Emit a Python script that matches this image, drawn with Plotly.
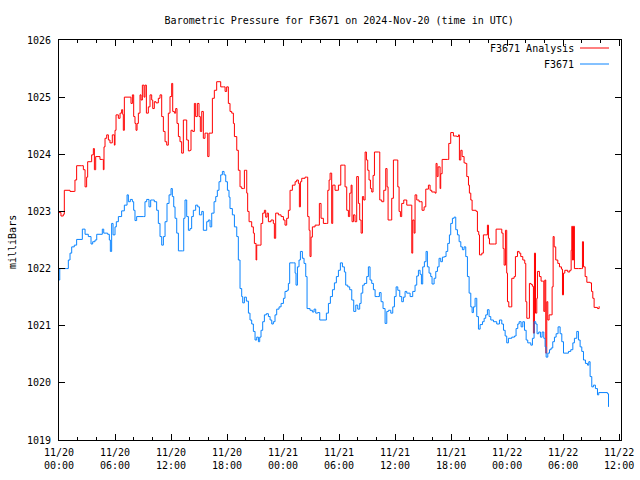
import pandas as pd
import plotly.graph_objects as go

# hours since 2024-11-20 00:00 UTC, pressure in mb
analysis_hours = [0.0,0.21,0.46,0.57,1.18,1.64,1.71,1.89,2.43,2.61,2.79,2.96,3.07,3.32,3.5,3.68,3.79,3.93,4.39,4.64,4.75,4.82,4.93,5.11,5.29,5.46,5.71,5.93,6.0,6.11,6.36,6.54,6.71,6.82,6.89,7.0,7.61,7.71,7.86,8.0,8.14,8.25,8.36,8.5,8.68,8.79,8.93,9.11,9.21,9.36,9.57,9.75,9.93,10.04,10.21,10.39,10.64,10.82,11.0,11.18,11.36,11.54,11.71,11.89,12.07,12.18,12.36,12.5,12.64,12.79,12.96,13.14,13.32,13.5,13.68,13.86,14.04,14.14,14.32,14.5,14.64,14.82,15.0,15.14,15.29,15.46,15.64,15.82,15.93,16.07,16.29,16.43,16.64,16.89,17.14,17.32,17.61,17.79,17.96,18.14,18.32,18.5,18.68,18.79,19.04,19.21,19.39,19.57,19.75,19.86,20.0,20.11,20.21,20.36,20.64,20.82,20.93,21.11,21.18,21.46,21.64,21.82,22.0,22.14,22.29,22.43,22.71,22.96,23.07,23.21,23.5,23.79,24.04,24.21,24.39,24.57,24.75,25.0,25.29,25.46,25.64,25.75,25.86,26.0,26.36,26.54,26.64,26.79,26.89,27.0,27.14,27.43,27.71,27.89,28.07,28.32,28.68,28.79,28.93,29.04,29.21,29.32,29.57,29.79,29.93,30.18,30.46,30.64,30.82,31.0,31.14,31.29,31.39,31.54,31.71,31.89,32.07,32.21,32.36,32.5,32.64,32.79,32.93,33.07,33.21,33.36,33.5,33.64,33.79,34.21,34.36,34.57,34.79,35.0,35.14,35.25,35.5,35.64,35.82,36.11,36.29,36.43,36.57,36.71,36.93,37.07,37.25,37.71,37.79,37.89,38.04,38.14,38.32,38.57,38.75,38.89,39.11,39.29,39.57,39.75,39.93,40.29,40.39,40.5,40.61,40.82,40.89,41.04,41.61,41.75,41.96,42.25,42.61,42.79,42.89,43.04,43.18,43.39,43.54,43.68,43.86,43.96,44.11,44.25,44.68,44.82,44.96,45.04,45.29,45.46,45.71,45.89,46.0,46.11,46.64,46.82,47.25,47.43,47.57,47.68,47.82,47.96,48.04,48.18,48.39,48.5,48.75,48.89,49.11,49.29,49.46,49.68,49.89,50.0,50.11,50.29,50.39,50.57,50.71,50.82,50.93,51.04,51.18,51.25,51.46,51.64,51.82,51.93,52.04,52.14,52.25,52.36,52.5,52.71,52.82,52.93,53.04,53.21,53.43,53.61,53.82,53.93,54.04,54.18,54.5,54.71,54.86,54.93,55.0,55.11,55.21,55.64,55.96,56.07,56.18,56.36,56.54,56.89,57.04,57.18,57.32,57.68,57.86]
analysis_mb = [1022.98,1022.92,1022.95,1023.37,1023.35,1023.35,1023.55,1023.8,1023.8,1023.73,1023.43,1023.6,1023.87,1023.87,1023.99,1024.1,1023.73,1023.96,1023.91,1023.91,1023.73,1024.13,1024.28,1024.34,1024.25,1024.2,1024.34,1024.16,1024.42,1024.69,1024.63,1024.72,1024.78,1024.7,1024.42,1025.0,1025.0,1024.89,1025.04,1024.66,1024.54,1024.42,1024.54,1024.72,1025.04,1024.95,1025.21,1025.0,1025.21,1024.72,1024.83,1025.04,1024.95,1024.8,1024.92,1024.9,1024.98,1025.04,1024.66,1024.4,1024.22,1024.16,1024.72,1025.01,1025.24,1024.75,1024.72,1024.8,1024.54,1024.31,1024.22,1024.02,1024.6,1024.6,1024.25,1024.06,1024.07,1024.42,1024.4,1024.89,1024.66,1024.89,1024.66,1024.4,1024.75,1024.28,1024.37,1024.37,1023.96,1024.37,1024.37,1024.98,1025.12,1025.27,1025.27,1025.18,1025.18,1025.1,1025.18,1024.89,1024.75,1024.72,1024.54,1024.31,1024.07,1023.72,1023.43,1023.4,1023.4,1023.72,1023.72,1023.32,1023.0,1022.82,1022.73,1022.62,1022.44,1022.15,1022.41,1022.41,1022.79,1022.97,1023.02,1022.9,1022.97,1022.82,1022.85,1022.79,1022.53,1022.97,1022.94,1022.91,1022.85,1022.76,1022.88,1023.02,1023.37,1023.46,1023.52,1023.55,1023.49,1023.08,1023.52,1023.58,1023.6,1023.6,1022.91,1022.67,1022.21,1022.55,1022.73,1022.76,1022.76,1023.14,1022.88,1022.79,1022.79,1023.37,1023.55,1023.67,1022.79,1023.46,1023.37,1023.37,1023.46,1023.81,1023.81,1023.43,1023.02,1022.91,1023.32,1023.46,1022.82,1022.94,1022.82,1023.61,1023.14,1022.85,1022.62,1023.26,1023.2,1024.04,1023.9,1023.72,1023.55,1023.4,1023.34,1023.63,1024.04,1024.04,1023.2,1023.17,1023.37,1023.75,1023.43,1022.85,1022.85,1023.23,1023.9,1023.9,1023.43,1023.0,1022.91,1023.14,1023.2,1023.2,1023.11,1023.11,1022.27,1022.85,1022.62,1023.29,1023.2,1023.17,1023.17,1023.02,1023.08,1023.39,1023.46,1023.37,1023.34,1023.32,1023.84,1023.61,1023.78,1023.4,1023.66,1023.91,1023.91,1024.19,1024.38,1024.32,1024.31,1024.34,1023.9,1024.07,1023.96,1023.85,1023.84,1023.61,1023.46,1023.32,1023.2,1023.02,1023.0,1022.65,1022.59,1022.24,1022.27,1022.59,1022.59,1022.76,1022.53,1022.43,1022.43,1022.69,1022.69,1022.62,1022.35,1022.06,1022.67,1021.92,1021.42,1021.33,1021.33,1021.83,1021.86,1022.21,1022.3,1022.27,1022.21,1022.15,1022.09,1021.42,1021.13,1021.13,1021.74,1021.72,1021.69,1020.87,1022.27,1021.22,1021.48,1021.95,1021.86,1021.78,1021.78,1021.25,1021.8,1020.52,1021.42,1021.1,1021.19,1021.19,1021.68,1022.56,1022.38,1022.15,1022.09,1022.03,1021.99,1021.54,1021.92,1021.97,1021.94,1021.97,1022.32,1022.74,1022.15,1022.74,1022.0,1022.0,1022.0,1022.47,1022.03,1021.86,1021.76,1021.75,1021.6,1021.48,1021.32,1021.3,1021.34]

station_hours = [0.0,0.08,0.82,1.0,1.18,1.36,1.64,1.89,2.36,2.5,2.79,3.14,3.43,3.61,3.86,4.04,4.5,4.64,4.79,5.21,5.39,5.5,5.64,5.79,6.0,6.14,6.36,6.71,7.0,7.29,7.43,7.64,7.86,8.0,8.14,8.32,9.04,9.21,9.39,9.64,9.82,10.04,10.21,10.46,10.64,10.82,11.0,11.18,11.36,11.57,11.79,12.0,12.14,12.29,12.43,12.61,12.79,13.21,13.36,13.5,13.68,13.86,14.04,14.21,14.39,14.64,14.86,15.04,15.29,15.46,15.64,15.82,16.0,16.18,16.36,16.61,16.79,16.96,17.14,17.32,17.5,17.68,17.86,18.04,18.21,18.32,18.57,18.79,19.04,19.21,19.39,19.57,19.68,19.86,20.07,20.29,20.46,20.64,20.82,21.0,21.18,21.36,21.5,21.64,21.82,22.0,22.21,22.43,22.61,22.79,22.96,23.14,23.32,23.57,23.79,24.04,24.21,24.43,24.57,24.71,25.11,25.29,25.39,25.54,25.71,25.86,26.07,26.25,26.43,26.57,26.89,27.14,27.32,27.5,27.71,27.93,28.5,28.64,28.86,29.07,29.29,29.5,29.71,29.93,30.14,30.36,30.57,30.71,30.93,31.14,31.36,31.57,31.79,32.0,32.21,32.36,32.54,32.71,32.96,33.14,33.32,33.5,33.68,33.86,34.14,34.32,34.5,34.71,34.93,35.11,35.29,35.54,35.75,35.93,36.11,36.29,36.5,36.71,36.89,37.07,37.25,37.61,37.89,38.14,38.32,38.5,38.68,38.82,38.96,39.14,39.32,39.46,39.64,39.82,39.96,40.18,40.36,40.54,40.71,40.89,41.07,41.29,41.46,41.64,41.82,41.96,42.14,42.32,42.5,42.68,42.86,43.04,43.21,43.39,43.57,43.75,43.93,44.11,44.25,44.39,44.57,44.75,44.93,45.11,45.36,45.54,45.71,45.89,46.07,46.25,46.54,46.89,47.18,47.43,47.61,47.79,47.96,48.14,48.5,48.79,48.96,49.14,49.29,49.5,49.68,49.86,50.04,50.21,50.54,50.71,50.89,51.07,51.21,51.39,51.57,51.75,51.93,52.07,52.18,52.36,52.54,52.71,52.89,53.07,53.25,53.46,53.68,53.86,54.04,54.57,54.82,55.04,55.21,55.46,55.64,55.82,56.0,56.18,56.39,56.61,56.75,56.89,57.07,57.25,57.46,57.68,57.82,58.75,58.86]
station_mb = [1021.8,1022.0,1022.0,1022.15,1022.27,1022.38,1022.41,1022.51,1022.51,1022.69,1022.6,1022.56,1022.43,1022.47,1022.5,1022.6,1022.6,1022.69,1022.62,1022.6,1022.5,1022.3,1022.79,1022.59,1022.73,1022.82,1022.91,1023.01,1023.11,1023.29,1023.17,1023.21,1023.17,1023.02,1022.84,1022.91,1022.91,1023.17,1023.21,1023.08,1023.2,1023.2,1023.17,1023.02,1022.79,1022.56,1022.41,1022.56,1022.82,1023.14,1023.29,1023.4,1023.26,1023.08,1022.88,1022.62,1022.31,1022.31,1022.88,1023.2,1022.91,1022.67,1022.7,1022.91,1023.02,1023.11,1023.08,1022.94,1023.0,1022.67,1022.67,1022.82,1022.85,1022.73,1022.97,1023.17,1023.26,1023.37,1023.52,1023.64,1023.7,1023.64,1023.52,1023.37,1023.25,1023.05,1022.94,1022.73,1022.56,1022.15,1021.65,1021.51,1021.4,1021.5,1021.43,1021.22,1021.1,1021.03,1020.9,1020.75,1020.8,1020.72,1020.8,1020.92,1021.07,1021.19,1021.21,1021.16,1021.1,1021.03,1021.07,1021.19,1021.29,1021.33,1021.39,1021.48,1021.6,1021.62,1021.74,1022.1,1022.1,1021.92,1021.71,1022.03,1022.15,1022.3,1022.18,1022.09,1021.86,1021.3,1021.27,1021.24,1021.29,1021.22,1021.23,1021.1,1021.1,1021.22,1021.39,1021.51,1021.63,1021.75,1021.86,1021.97,1022.1,1022.03,1021.94,1021.71,1021.68,1021.63,1021.45,1021.25,1021.36,1021.29,1021.39,1021.57,1021.71,1021.74,1021.86,1022.03,1021.8,1021.74,1021.63,1021.51,1021.51,1021.58,1021.42,1021.3,1021.04,1021.25,1021.27,1021.22,1021.33,1021.51,1021.68,1021.62,1021.51,1021.42,1021.5,1021.6,1021.57,1021.51,1021.6,1021.71,1021.87,1021.97,1021.9,1021.73,1022.03,1022.12,1022.3,1022.03,1021.92,1021.86,1021.73,1021.83,1021.95,1022.03,1022.18,1022.12,1022.2,1022.21,1022.3,1022.44,1022.59,1022.79,1022.88,1022.9,1022.68,1022.59,1022.47,1022.38,1022.33,1022.38,1022.21,1021.86,1021.57,1021.33,1021.23,1021.33,1021.48,1021.16,1020.94,1021.02,1021.07,1021.13,1021.19,1021.28,1021.16,1021.1,1021.07,1021.03,1021.1,1021.03,1020.92,1020.82,1020.7,1020.78,1020.8,1020.82,1020.95,1021.03,1021.07,1020.98,1021.07,1020.92,1020.75,1020.7,1020.66,1020.78,1021.07,1021.03,1020.86,1020.89,1020.8,1020.89,1020.78,1020.63,1020.45,1020.52,1020.58,1020.61,1020.72,1020.8,1020.86,1020.98,1020.86,1020.72,1020.52,1020.55,1020.58,1020.7,1020.78,1020.9,1020.75,1020.63,1020.55,1020.4,1020.34,1020.31,1020.37,1020.11,1019.93,1019.96,1019.9,1019.79,1019.83,1019.81,1019.58]

series_names = ["F3671 Analysis", "F3671"]
series_colors = ["#ff0000", "#0a84ff"]
y_ticks = [1019, 1020, 1021, 1022, 1023, 1024, 1025, 1026]
title_text = "Barometric Pressure for F3671 on 2024-Nov-20 (time in UTC)"
y_title = "milliBars"

base = pd.Timestamp("2024-11-20 00:00")
t_analysis = base + pd.to_timedelta(analysis_hours, unit="h")
t_station = base + pd.to_timedelta(station_hours, unit="h")

FONT = "DejaVu Sans Mono"

fig = go.Figure()
fig.add_trace(go.Scatter(x=t_analysis, y=analysis_mb, mode="lines", name=series_names[0],
                         line=dict(color=series_colors[0], width=1, shape="hv")))
fig.add_trace(go.Scatter(x=t_station, y=station_mb, mode="lines", name=series_names[1],
                         line=dict(color=series_colors[1], width=1, shape="hv")))

H = 3600 * 1000
fig.update_layout(
    width=640, height=480,
    margin=dict(l=59, r=19, t=40, b=40, autoexpand=False),
    paper_bgcolor="white", plot_bgcolor="white",
    showlegend=False,
    font=dict(family=FONT, size=10, color="black"),
    title=dict(text=title_text, x=0.53, xanchor="center", y=1 - 20 / 480, yanchor="middle",
               font=dict(family=FONT, size=10, color="black")),
    xaxis=dict(
        type="date", automargin=False,
        range=[base, base + pd.Timedelta(hours=60.2)],
        tick0=base, dtick=6 * H,
        tickformat="%m/%d<br>%H:%M",
        ticks="inside", ticklen=6, tickcolor="black", tickwidth=1,
        ticklabelstandoff=3,
        minor=dict(dtick=2 * H, ticks="inside", ticklen=3, tickcolor="black", tickwidth=1, showgrid=False),
        showline=True, linecolor="black", linewidth=1, mirror="ticks",
        showgrid=False, zeroline=False,
        tickfont=dict(family=FONT, size=10, color="black"),
    ),
    yaxis=dict(
        range=[1019, 1026], automargin=False,
        tickvals=y_ticks,
        ticks="inside", ticklen=6, tickcolor="black", tickwidth=1,
        ticklabelstandoff=5,
        showline=True, linecolor="black", linewidth=1, mirror="ticks",
        showgrid=False, zeroline=False,
        tickfont=dict(family=FONT, size=10, color="black"),
    ),
)

# y-axis title
fig.add_annotation(text=y_title, xref="paper", yref="paper", x=0, y=(440 - 242) / 400, xshift=-47,
                   textangle=-90, showarrow=False, xanchor="center", yanchor="middle",
                   font=dict(family=FONT, size=10, color="black"))

# gnuplot-style key: text then line sample, top right
key_rows = [(series_names[0], series_colors[0], 1 - 8 / 400), (series_names[1], series_colors[1], 1 - 24 / 400)]
for name, color, yp in key_rows:
    fig.add_annotation(text=name, xref="paper", yref="paper", x=(576 - 59) / 562, y=yp,
                       xanchor="right", yanchor="middle", showarrow=False,
                       font=dict(family=FONT, size=10, color="black"))
    fig.add_shape(type="line", xref="paper", yref="paper", x0=(580 - 59) / 562, x1=(609 - 59) / 562,
                  y0=yp, y1=yp, line=dict(color=color, width=1))

# remove the browser's default 8px page margin so the 640x480 figure fills the window
fig.write_html("out.html", config={"displayModeBar": False},
               post_script="document.body.style.margin='0';document.body.style.overflow='hidden';")
